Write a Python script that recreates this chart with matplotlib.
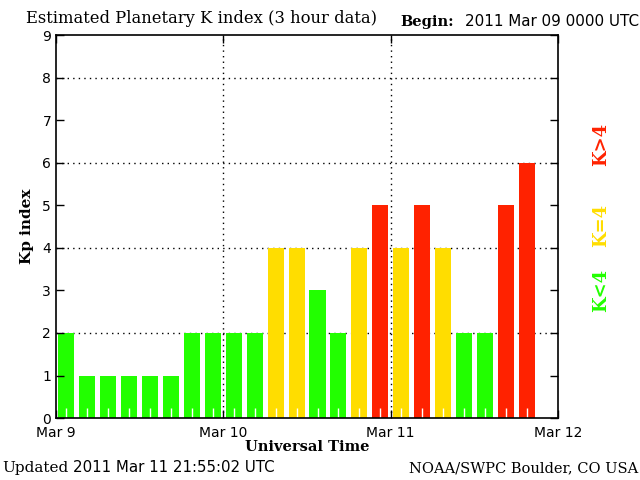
import matplotlib
matplotlib.use("Agg")
import matplotlib.pyplot as plt

# Kp values, one per 3-hour slot starting 2011 Mar 09 00 UT
kp = [2, 1, 1, 1, 1, 1, 2, 2, 2, 2, 4, 4, 3, 2, 4, 5, 4, 5, 4, 2, 2, 5, 6]
day_ticks = [0, 24, 48, 72]
day_labels = ["Mar 9", "Mar 10", "Mar 11", "Mar 12"]

GREEN = "#22ff00"
YELLOW = "#ffdd00"
RED = "#ff2200"

serif = "DejaVu Serif"
sans = "DejaVu Sans"

def kp_color(v):
    if v < 4:
        return GREEN
    if v == 4:
        return YELLOW
    return RED

hours = [3 * i + 1.5 for i in range(len(kp))]
colors = [kp_color(v) for v in kp]

fig = plt.figure(figsize=(6.4, 4.8), dpi=100)
ax = fig.add_axes([0.0875, 0.129, 0.7845, 0.798])

ax.bar(hours, kp, width=2.3, color=colors, zorder=1.5)

ax.set_xlim(0, 72)
ax.set_ylim(0, 9)

# dotted grid
for y in [2, 4, 6, 8]:
    ax.axhline(y, color="black", lw=1, ls=(0, (1, 3)), zorder=1)
for x in [24, 48]:
    ax.axvline(x, color="black", lw=1, ls=(0, (1, 3)), zorder=1)

ax.set_xticks(day_ticks)
ax.set_xticklabels(day_labels, fontsize=10, family=sans)
ax.set_xticks(hours, minor=True)
ax.tick_params(axis="x", which="major", direction="in", length=6, top=True, width=1, pad=6)
ax.tick_params(axis="x", which="minor", direction="in", length=7, color="white", width=1)
ax.set_yticks(range(10))
ax.set_yticklabels([str(i) for i in range(10)], fontsize=10, family=sans)
ax.tick_params(axis="y", direction="in", length=6, right=True, width=1)
for s in ax.spines.values():
    s.set_linewidth(1.2)
    s.set_zorder(4)

ax.set_xlabel("Universal Time", fontsize=10.5, family=serif, fontweight="bold", labelpad=0)
ax.set_ylabel("Kp index", fontsize=11, family=serif, fontweight="bold", labelpad=6)

fig.text(0.04, 0.962, "Estimated Planetary K index (3 hour data)", fontsize=11.8, family=serif, va="center")
fig.text(0.625, 0.955, "Begin:", fontsize=10.5, family=serif, fontweight="bold", va="center")
fig.text(0.726, 0.955, "2011 Mar 09 0000 UTC", fontsize=10.9, family=sans, va="center")

fig.text(0.003, 0.025, "Updated", fontsize=11, family=serif, va="center")
fig.text(0.114, 0.025, "2011 Mar 11 21:55:02 UTC", fontsize=10.8, family=sans, va="center")
fig.text(0.997, 0.025, "NOAA/SWPC Boulder, CO USA", fontsize=10.5, family=serif, va="center", ha="right")

fig.text(0.94, 0.70, "K>4", color=RED, fontsize=13, family=serif, fontweight="bold", rotation=90, ha="center", va="center")
fig.text(0.94, 0.53, "K=4", color=YELLOW, fontsize=13, family=serif, fontweight="bold", rotation=90, ha="center", va="center")
fig.text(0.94, 0.395, "K<4", color=GREEN, fontsize=13, family=serif, fontweight="bold", rotation=90, ha="center", va="center")

fig.savefig("out.png", dpi=100)
